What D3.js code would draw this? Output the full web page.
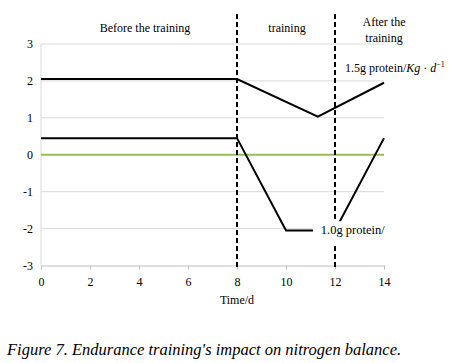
<!DOCTYPE html>
<html>
<head>
<meta charset="utf-8">
<script src="https://cdn.jsdelivr.net/npm/d3@7"></script>
<style>
  body { margin: 0; background: #fff; }
  svg { display: block; font-family: "Liberation Serif", "Times New Roman", serif; }
</style>
</head>
<body>
<svg id="chart" width="454" height="363"></svg>
<script>
const width = 454
const height = 363

// data
const high = [[0, 2.05], [8, 2.05], [11.3, 1.03], [14, 1.95]]
const low = [[0, 0.45], [8, 0.45], [10, -2.05], [12, -2.05], [14, 0.45]]
const phaseBounds = [8, 12]
const xTicks = [0, 2, 4, 6, 8, 10, 12, 14]
const yTicks = [-3, -2, -1, 0, 1, 2, 3]

const svg = d3.select('#chart')

const x = d3.scaleLinear().domain([0, 14]).range([41, 384])
const y = d3.scaleLinear().domain([-3, 3]).range([265.5, 44])

// grid lines
svg.append('g')
  .selectAll('line')
  .data(yTicks.filter((t) => t !== 0 && t !== -3))
  .join('line')
  .attr('x1', x(0)).attr('x2', x(14))
  .attr('y1', (d) => y(d)).attr('y2', (d) => y(d))
  .style('stroke', '#d9d9d9')

// y axis line
svg.append('line')
  .attr('x1', x(0)).attr('x2', x(0))
  .attr('y1', y(3)).attr('y2', y(-3))
  .style('stroke', '#d9d9d9')

// x axis
const xAxis = svg.append('g')
  .attr('transform', `translate(0,${y(-3)})`)
  .call(d3.axisBottom(x).tickValues(xTicks).tickSize(4).tickPadding(8))
xAxis.selectAll('path, line').style('stroke', '#bfbfbf')
xAxis.selectAll('text').style('font-size', '12px').style('fill', '#000').style('font-family', 'Liberation Serif')

// y labels
svg.append('g')
  .selectAll('text')
  .data(yTicks)
  .join('text')
  .attr('x', 33)
  .attr('y', (d) => y(d))
  .attr('dy', '0.35em')
  .attr('text-anchor', 'end')
  .style('font-size', '12px')
  .text((d) => d)

// zero line
svg.append('line')
  .attr('x1', x(0)).attr('x2', x(14))
  .attr('y1', y(0)).attr('y2', y(0))
  .style('stroke', '#9bbb59')
  .style('stroke-width', 2)

// phase boundaries
svg.append('g')
  .selectAll('line')
  .data(phaseBounds)
  .join('line')
  .attr('x1', (d) => x(d)).attr('x2', (d) => x(d))
  .attr('y1', 14).attr('y2', y(-3) + 3)
  .style('stroke', '#000')
  .style('stroke-width', 2)
  .style('stroke-dasharray', '5,3')

const line = d3.line().x((d) => x(d[0])).y((d) => y(d[1]))

svg.append('path')
  .datum(high)
  .attr('d', line)
  .style('fill', 'none')
  .style('stroke', '#000')
  .style('stroke-width', 2)

svg.append('path')
  .datum(low)
  .attr('d', line)
  .style('fill', 'none')
  .style('stroke', '#000')
  .style('stroke-width', 2)

// series labels
svg.append('rect')
  .attr('x', x(11.1)).attr('y', y(-1.8))
  .attr('width', 70).attr('height', 22)
  .style('fill', '#fff')

svg.append('text')
  .attr('x', x(11.3) + 3)
  .attr('y', y(-2.05) + 4)
  .style('font-size', '12.5px')
  .text('1.0g protein/')

const hl = svg.append('text')
  .attr('x', 345)
  .attr('y', 72)
  .style('font-size', '12px')
hl.append('tspan').text('1.5g protein/')
hl.append('tspan').style('font-style', 'italic').text('Kg')
hl.append('tspan').text(' · ')
hl.append('tspan').style('font-style', 'italic').text('d')
hl.append('tspan').attr('dy', -5).style('font-size', '8px').text('−1')

// phase titles
const titles = svg.append('g').style('font-size', '12px').attr('text-anchor', 'middle')
titles.append('text').attr('x', 145).attr('y', 32).text('Before the training')
titles.append('text').attr('x', 287).attr('y', 32).text('training')
titles.append('text').attr('x', 384).attr('y', 26).text('After the')
titles.append('text').attr('x', 384).attr('y', 42).text('training')

// axis title
svg.append('text')
  .attr('x', x(8)).attr('y', 304)
  .attr('text-anchor', 'middle')
  .style('font-size', '12px')
  .text('Time/d')

// caption
svg.append('text')
  .attr('x', 7).attr('y', 355)
  .style('font-size', '16.5px')
  .style('font-style', 'italic')
  .text("Figure 7. Endurance training's impact on nitrogen balance.")
</script>
</body>
</html>
